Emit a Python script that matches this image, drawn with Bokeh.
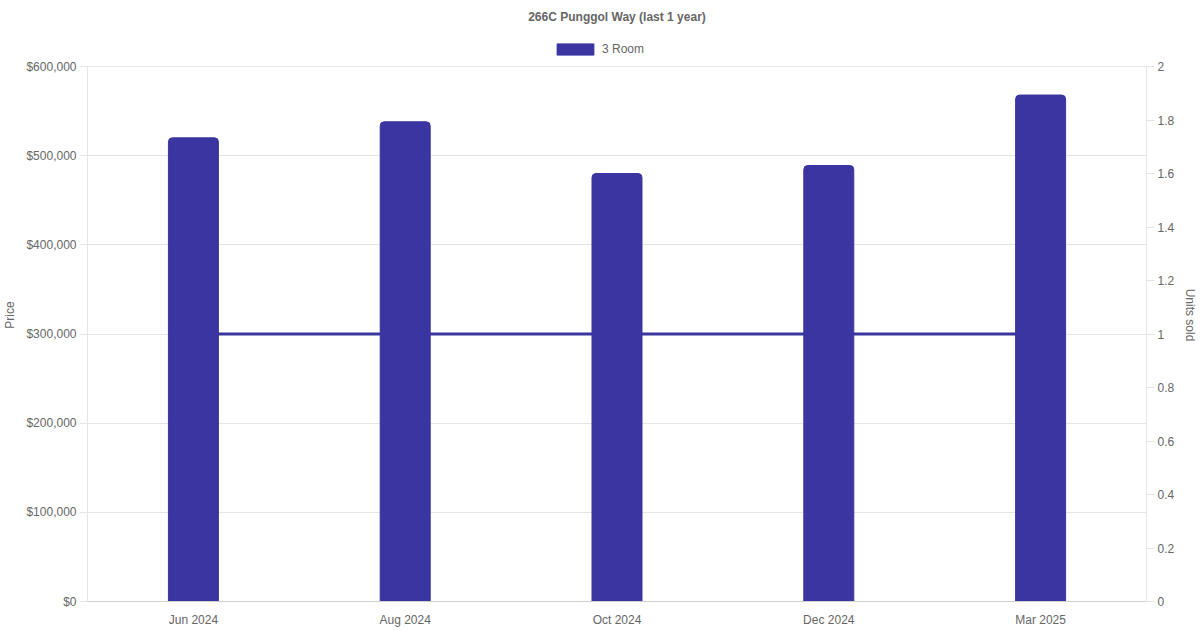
from bokeh.plotting import figure
from bokeh.embed import file_html
from bokeh.resources import INLINE
from bokeh.models import (ColumnDataSource, Range1d, LinearAxis, FactorRange,
                          NumeralTickFormatter, Legend, LegendItem, SingleIntervalTicker)

months = ["Jun 2024", "Aug 2024", "Oct 2024", "Dec 2024", "Mar 2025"]
prices = [520000, 538000, 480000, 489000, 568000]
units = [1, 1, 1, 1, 1]

PRICE_MAX = 600000
UNITS_MAX = 2

BAR = "#3a35a0"
TXT = "#666666"
GRID = "#e5e5e5"
FONT = "Liberation Sans"

# the frame is taller than the axes so the legend can sit inside it, above the data area
DATA_H = 535
FRAME_H = 573
stretch = FRAME_H / DATA_H

src = ColumnDataSource(data=dict(month=months, price=prices, units=units))

p = figure(
    frame_width=1059, frame_height=FRAME_H,
    x_range=FactorRange(*months, range_padding=0),
    y_range=Range1d(0, PRICE_MAX * stretch),
    output_backend="svg", toolbar_location=None,
    min_border_left=80, min_border_right=40, min_border_top=28, min_border_bottom=20,
)
p.extra_y_ranges = {"units": Range1d(0, UNITS_MAX * stretch)}

p.title.text = "266C Punggol Way (last 1 year)"
p.title.align = "center"
p.title.text_font = FONT
p.title.text_font_size = "12px"
p.title.text_color = TXT
p.title.text_font_style = "bold"

# line is drawn first so the bars sit on top of it
ln = p.line("month", "units", source=src, y_range_name="units",
            line_color=BAR, line_width=3)
bars = p.vbar(x="month", top="price", source=src, width=0.236,
              fill_color=BAR, line_color=BAR, border_radius=(4, 4, 0, 0))

legend = Legend(items=[LegendItem(label="3 Room", renderers=[bars])],
                orientation="horizontal", location=(465, 545),
                label_text_font=FONT, label_text_font_size="12px",
                label_text_color=TXT, glyph_width=46, glyph_height=14,
                label_standoff=4, border_line_color=None,
                background_fill_alpha=0, padding=0, margin=0)
p.add_layout(legend)

p.xgrid.visible = False
p.ygrid.grid_line_color = GRID
p.ygrid.bounds = (0, PRICE_MAX)
p.outline_line_color = None

ax = p.xaxis[0]
ax.major_tick_line_color = None
ax.minor_tick_line_color = None
ax.axis_line_color = "#d0d0d0"
ax.major_label_text_font = FONT
ax.major_label_text_font_size = "12px"
ax.major_label_text_color = TXT

ay = p.yaxis[0]
ay.ticker = SingleIntervalTicker(interval=100000)
ay.formatter = NumeralTickFormatter(format="$0,0")
ay.axis_label = "Price"
ay.bounds = (0, PRICE_MAX)

ry = LinearAxis(y_range_name="units", axis_label="Units sold",
                ticker=SingleIntervalTicker(interval=0.2),
                formatter=NumeralTickFormatter(format="0.[0]"),
                bounds=(0, UNITS_MAX))
p.add_layout(ry, "right")

for a in (ay, ry):
    a.axis_line_color = GRID
    a.major_tick_line_color = GRID
    a.major_tick_out = 8
    a.major_tick_in = 0
    a.minor_tick_line_color = None
    a.major_label_text_font = FONT
    a.major_label_text_font_size = "12px"
    a.major_label_text_color = TXT
    a.major_label_standoff = 3
    a.axis_label_text_font = FONT
    a.axis_label_text_font_size = "12px"
    a.axis_label_text_color = TXT
    a.axis_label_text_font_style = "normal"
    a.axis_label_standoff = 6

open("out.html", "w").write(file_html(p, INLINE))
